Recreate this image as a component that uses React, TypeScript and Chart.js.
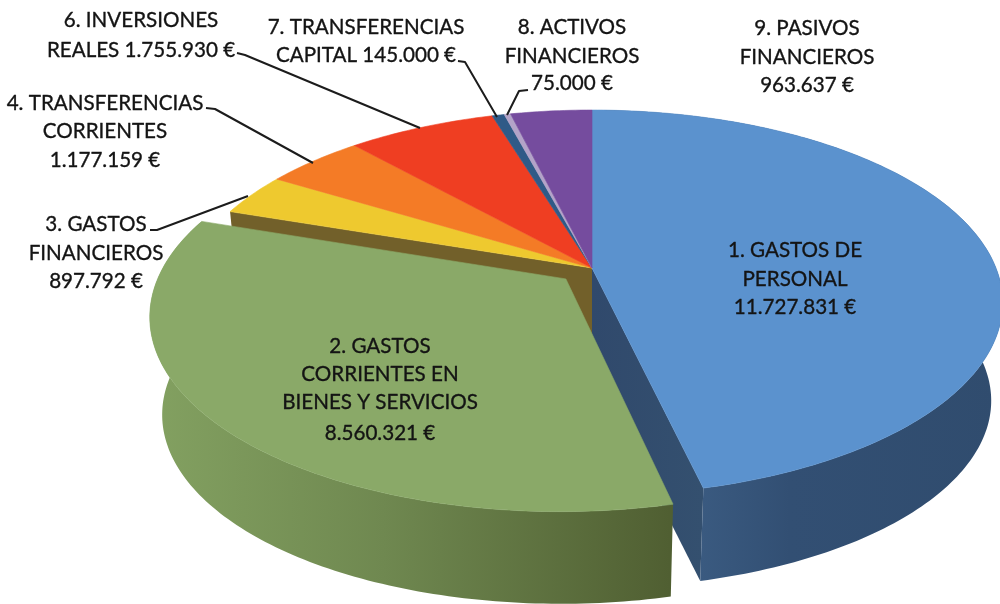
import React, { useEffect, useRef } from "react";
import { Chart, registerables } from "chart.js";

Chart.register(...registerables);

const categories = [
  "1. GASTOS DE PERSONAL",
  "2. GASTOS CORRIENTES EN BIENES Y SERVICIOS",
  "3. GASTOS FINANCIEROS",
  "4. TRANSFERENCIAS CORRIENTES",
  "6. INVERSIONES REALES",
  "7. TRANSFERENCIAS CAPITAL",
  "8. ACTIVOS FINANCIEROS",
  "9. PASIVOS FINANCIEROS",
];
const amounts = [11727831, 8560321, 897792, 1177159, 1755930, 145000, 75000, 963637];
const topColors = ["#5b92ce", "#8aa968", "#eec92f", "#f47b26", "#ef3e22", "#2f5a87", "#b3a3c8", "#754c9e"];
const explodeOffsets = [0, 25, 0, 0, 0, 0, 0, 0];

const labelLines = [
  ["1. GASTOS DE", "PERSONAL", "11.727.831 €"],
  ["2. GASTOS", "CORRIENTES EN", "BIENES Y SERVICIOS", "8.560.321 €"],
  ["3. GASTOS", "FINANCIEROS", "897.792 €"],
  ["4. TRANSFERENCIAS", "CORRIENTES", "1.177.159 €"],
  ["6. INVERSIONES", "REALES 1.755.930 €"],
  ["7. TRANSFERENCIAS", "CAPITAL 145.000 €"],
  ["8. ACTIVOS", "FINANCIEROS", "75.000 €"],
  ["9. PASIVOS", "FINANCIEROS", "963.637 €"],
];
// center x and the vertical centre of each line
const labelCenterX = [795, 380, 96, 105, 141, 366, 572, 807];
const labelLineY = [
  [250, 279, 307],
  [346, 374, 402, 433],
  [224, 253, 281],
  [103, 131, 160],
  [20, 50],
  [27, 55],
  [27, 56, 83],
  [28, 57, 85],
];
const leaderPaths = [
  [[150, 230], [157, 230], [248, 196]],
  [[206, 108], [215, 109], [313, 163]],
  [[237, 53], [245, 55], [420, 128]],
  [[458, 61], [465, 62], [497, 117]],
  [[528, 90], [519, 91], [507, 115]],
];

// projection of the unit disc onto the page
const CX = 592, CY = 268, RX = 404, RY = 186.4, K = 0.18;
const RIM_SCALE = 0.972, RIM_DROP = 99;

const project = (u: number, v: number, bottom: boolean) => {
  const s = 1 / (1 + K * v);
  const f = bottom ? RIM_SCALE : 1;
  return {
    x: CX + RX * u * s * f,
    y: CY + (bottom ? RIM_DROP : 0) - RY * v * s * f,
  };
};

const pie3d = {
  id: "pie3d",
  beforeDatasetsDraw(chart: any) {
    const { ctx } = chart;
    const arcs = chart.getDatasetMeta(0).data;
    const geom = arcs.map((el: any) => {
      const p = el.getProps(["startAngle", "endAngle", "outerRadius"], true);
      const mid = (p.startAngle + p.endAngle) / 2;
      const d = (el.options.offset || 0) / p.outerRadius;
      return { a0: p.startAngle, a1: p.endAngle, ou: Math.cos(mid) * d, ov: -Math.sin(mid) * d };
    });
    const pt = (g: any, a: number, bottom: boolean, r = 1) =>
      project(g.ou + Math.cos(a) * r, g.ov - Math.sin(a) * r, bottom);
    const arcPts = (g: any, bottom: boolean) => {
      const out = [];
      const n = Math.max(2, Math.ceil((g.a1 - g.a0) * 60));
      for (let i = 0; i <= n; i++) out.push(pt(g, g.a0 + ((g.a1 - g.a0) * i) / n, bottom));
      return out;
    };
    const fillPoly = (pts: any[], fill: any, seam = false) => {
      ctx.beginPath();
      pts.forEach((q, i) => (i ? ctx.lineTo(q.x, q.y) : ctx.moveTo(q.x, q.y)));
      ctx.closePath();
      ctx.fillStyle = fill;
      ctx.fill();
      if (seam) {
        ctx.strokeStyle = fill;
        ctx.lineWidth = 0.6;
        ctx.stroke();
      }
    };
    const edgeWall = (g: any, a: number, fill: any) =>
      fillPoly([pt(g, a, false, 0), pt(g, a, false), pt(g, a, true), pt(g, a, true, 0)], fill);
    const outerWall = (g: any, fill: any) =>
      fillPoly([...arcPts(g, false), ...arcPts(g, true).reverse()], fill);

    ctx.save();
    // back group: the cut face of slice 3, seen above the exploded slice 2
    edgeWall(geom[2], geom[2].a0, "#72602a");
    // slice 1: cut face and rim
    const blueCut = ctx.createLinearGradient(592, 0, 703, 0);
    blueCut.addColorStop(0, "#30496c");
    blueCut.addColorStop(1, "#34506f");
    edgeWall(geom[0], geom[0].a1, blueCut);
    const blueRim = ctx.createLinearGradient(700, 0, 1000, 0);
    blueRim.addColorStop(0, "#3a5a80");
    blueRim.addColorStop(0.3, "#324f73");
    blueRim.addColorStop(1, "#304c6e");
    outerWall(geom[0], blueRim);
    // slice 2: rim
    const greenRim = ctx.createLinearGradient(150, 0, 670, 0);
    greenRim.addColorStop(0, "#83a161");
    greenRim.addColorStop(0.45, "#6f8850");
    greenRim.addColorStop(1, "#505f32");
    outerWall(geom[1], greenRim);
    // top faces
    geom.forEach((g: any, i: number) => {
      fillPoly([pt(g, g.a0, false, 0), ...arcPts(g, false)], topColors[i], true);
    });
    ctx.restore();
    return false;
  },
  afterDraw(chart: any) {
    const { ctx } = chart;
    ctx.save();
    ctx.strokeStyle = "#1c1c1c";
    ctx.lineWidth = 2;
    ctx.lineJoin = "round";
    leaderPaths.forEach((path) => {
      ctx.beginPath();
      path.forEach(([x, y], i) => (i ? ctx.lineTo(x, y) : ctx.moveTo(x, y)));
      ctx.stroke();
    });
    ctx.fillStyle = "#141414";
    ctx.strokeStyle = "#141414";
    ctx.lineWidth = 0.35;
    ctx.font = "20.6px Lato";
    ctx.textAlign = "center";
    ctx.textBaseline = "middle";
    labelLines.forEach((lines, i) => {
      lines.forEach((t, j) => {
        ctx.fillText(t, labelCenterX[i], labelLineY[i][j]);
        ctx.strokeText(t, labelCenterX[i], labelLineY[i][j]);
      });
    });
    ctx.restore();
  },
};

export default function App() {
  const ref = useRef<HTMLCanvasElement>(null);
  useEffect(() => {
    const chart = new Chart(ref.current as HTMLCanvasElement, {
      type: "pie",
      data: {
        labels: categories,
        datasets: [
          {
            data: amounts,
            backgroundColor: topColors,
            borderWidth: 0,
            offset: explodeOffsets,
          },
        ],
      },
      options: {
        responsive: false,
        animation: false,
        plugins: { legend: { display: false }, tooltip: { enabled: false } },
      },
      plugins: [pie3d],
    } as any);
    return () => chart.destroy();
  }, []);
  return (
    <div style={{ position: "fixed", left: 0, top: 0, width: 1000, height: 604, background: "#fff" }}>
      <canvas ref={ref} width={1000} height={604} style={{ display: "block" }} />
    </div>
  );
}
